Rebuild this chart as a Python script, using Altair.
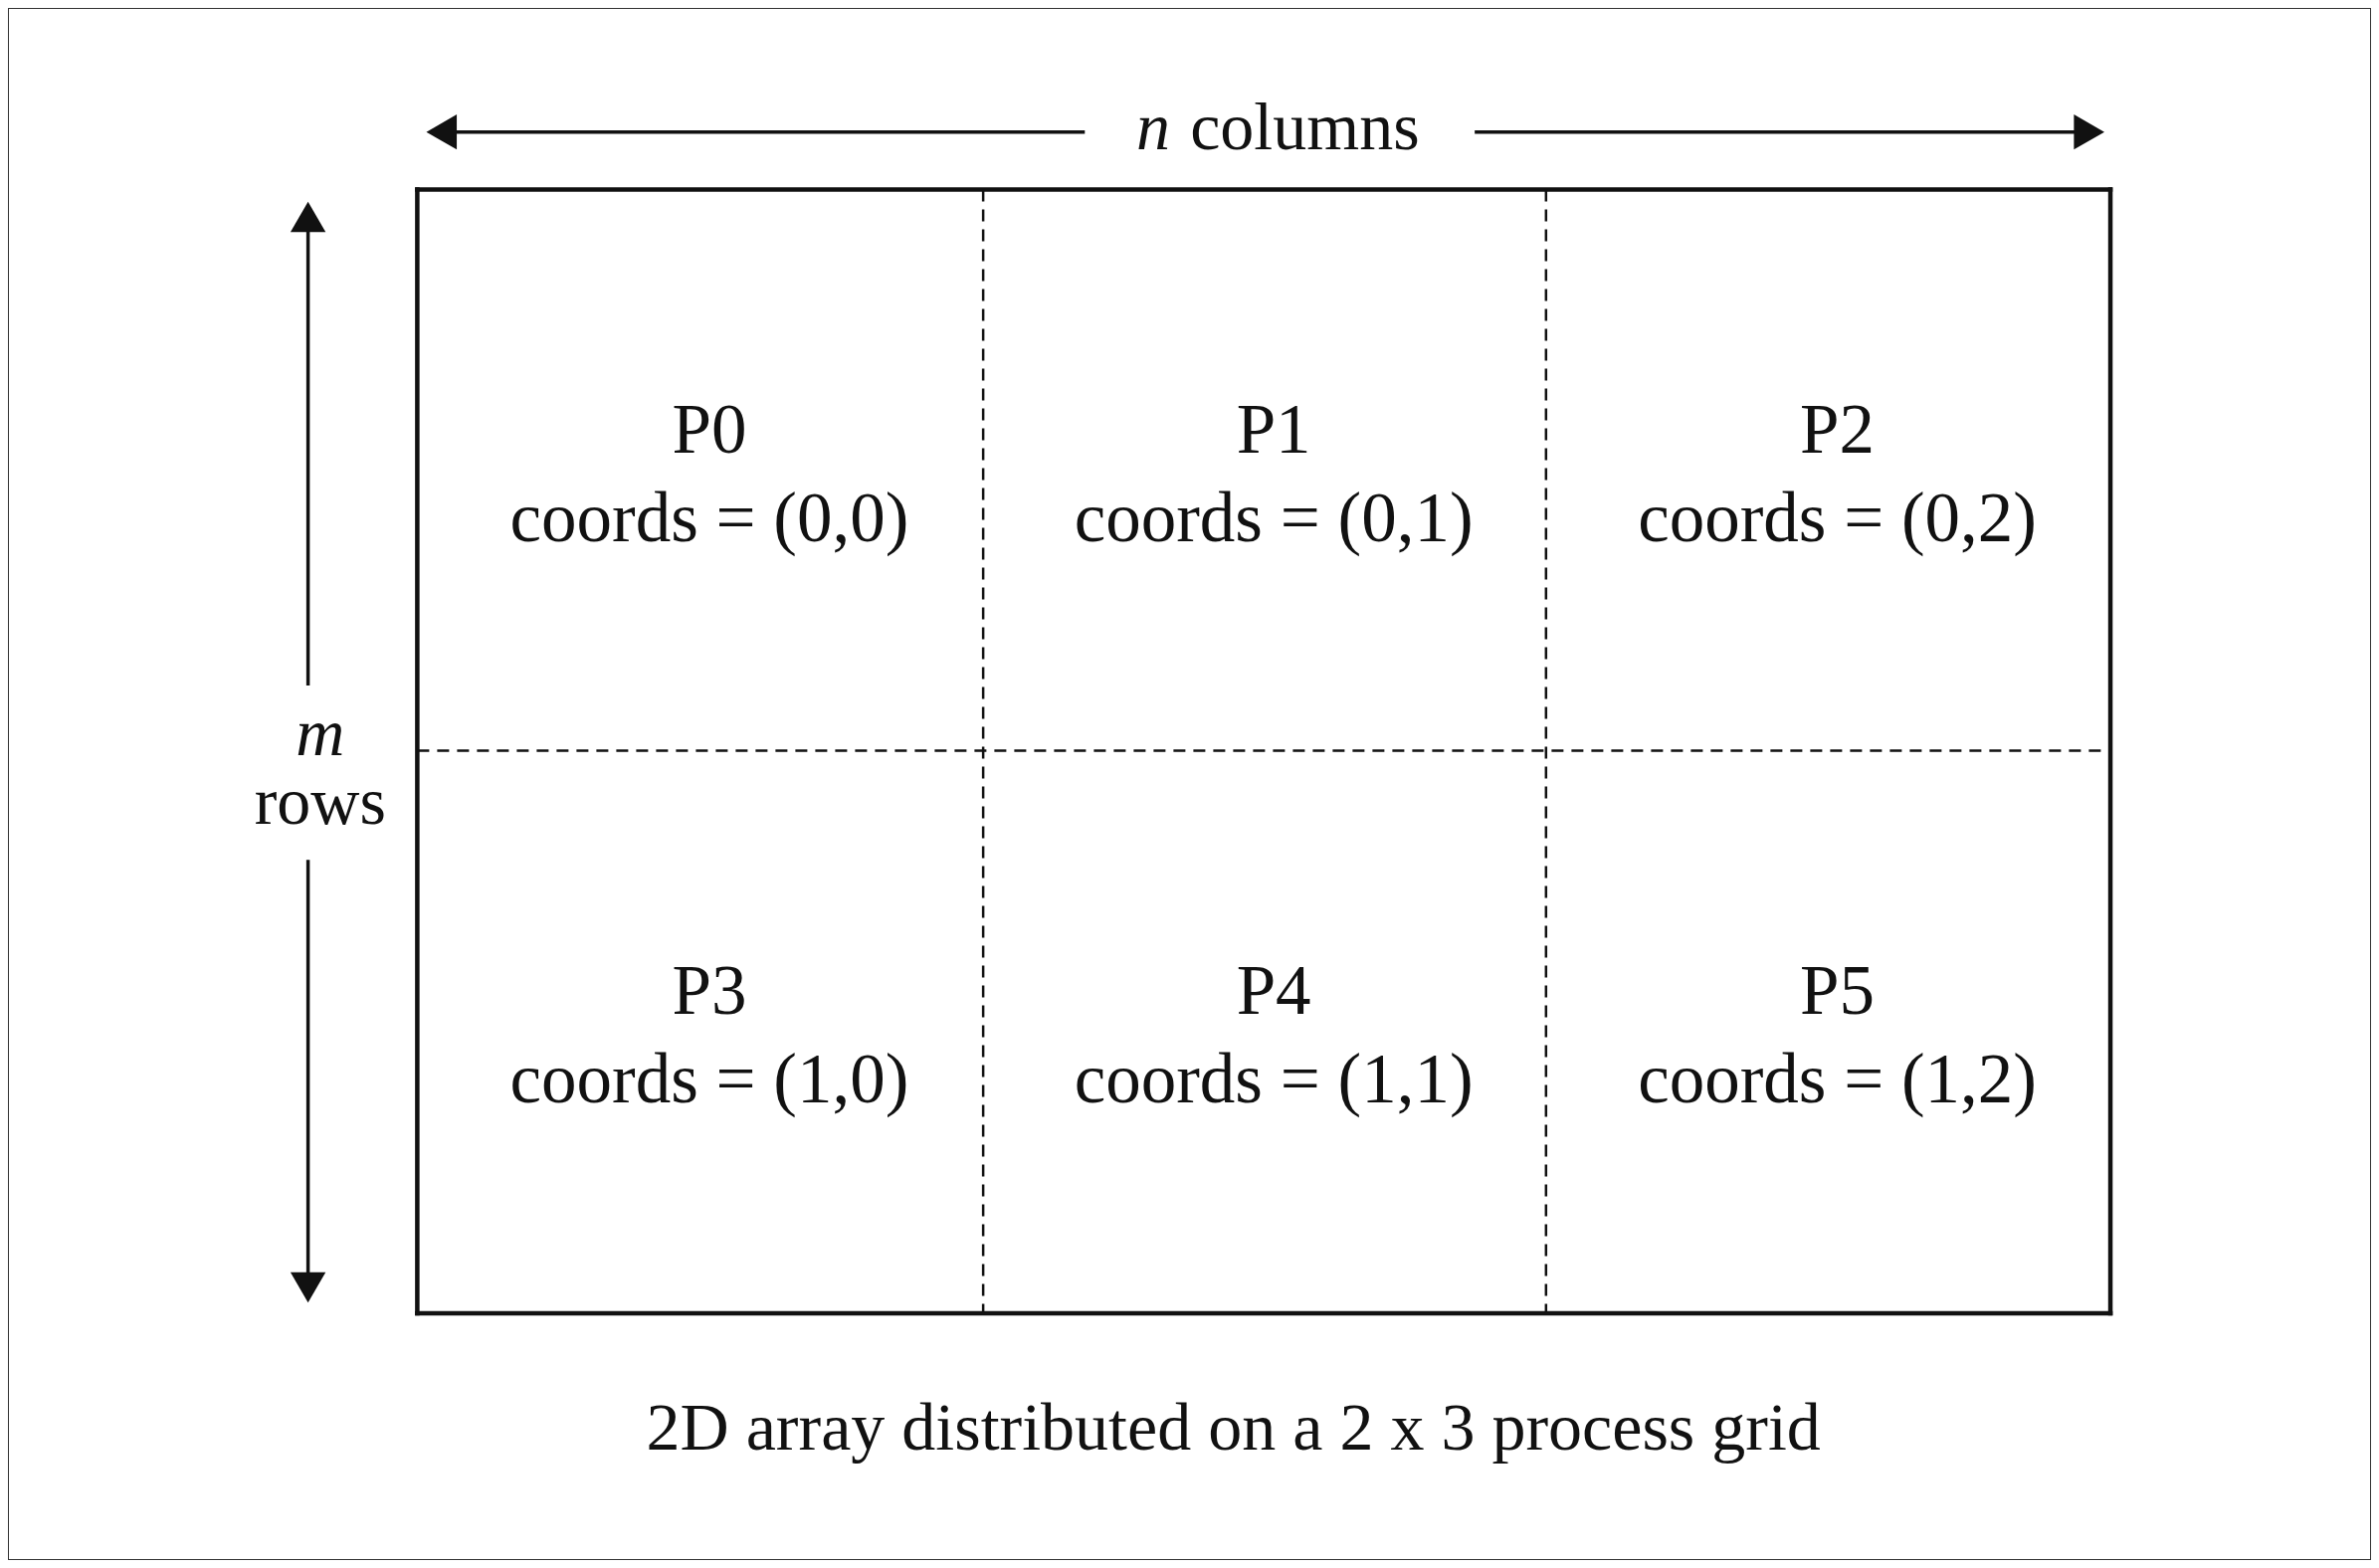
import pandas as pd
import altair as alt

# grid layout (reference image units)
col_edges = [275, 648, 1019, 1391]
row_edges = [125, 495, 866]
labels = ["P0", "P1", "P2", "P3", "P4", "P5"]
coords = ["(0,0)", "(0,1)", "(0,2)", "(1,0)", "(1,1)", "(1,2)"]
caption = "2D array distributed on a 2 x 3 process grid"

xs = alt.Scale(domain=[5.2, 1562.8], nice=False, zero=False)
ys = alt.Scale(domain=[5.2, 1028.8], nice=False, zero=False, reverse=True)
X = lambda f="x": alt.X(f"{f}:Q", scale=xs, axis=None)
Y = lambda f="y": alt.Y(f"{f}:Q", scale=ys, axis=None)
FONT = "Liberation Serif"

segs = []
for y in (row_edges[0], row_edges[-1]):
    segs.append(dict(x=col_edges[0], x2=col_edges[-1], y=y, y2=y, kind="solid"))
for x in (col_edges[0], col_edges[-1]):
    segs.append(dict(x=x, x2=x, y=row_edges[0], y2=row_edges[-1], kind="solid"))
for x in col_edges[1:-1]:
    segs.append(dict(x=x, x2=x, y=row_edges[0], y2=row_edges[-1], kind="dash"))
for y in row_edges[1:-1]:
    segs.append(dict(x=col_edges[0], x2=col_edges[-1], y=y, y2=y, kind="dash"))
seg = pd.DataFrame(segs)

solid = alt.Chart(seg[seg.kind == "solid"]).mark_rule(color="#111", strokeWidth=4.5, strokeCap="square").encode(
    x=X(), x2="x2:Q", y=Y(), y2="y2:Q")
dash = alt.Chart(seg[seg.kind == "dash"]).mark_rule(color="#111", strokeWidth=2.5, strokeDash=[12, 8]).encode(
    x=X(), x2="x2:Q", y=Y(), y2="y2:Q")

arrows = pd.DataFrame([
    dict(x=290, x2=715, y=87, y2=87),
    dict(x=972, x2=1378, y=87, y2=87),
    dict(x=203, x2=203, y=140, y2=452),
    dict(x=203, x2=203, y=567, y2=850),
])
arrow_lines = alt.Chart(arrows).mark_rule(color="#111", strokeWidth=3.5).encode(
    x=X(), x2="x2:Q", y=Y(), y2="y2:Q")
heads = pd.DataFrame([
    dict(x=291, y=87, shape="triangle-left"),
    dict(x=1377, y=87, shape="triangle-right"),
    dict(x=203, y=143, shape="triangle-up"),
    dict(x=203, y=849, shape="triangle-down"),
])
head_marks = alt.Chart(heads).mark_point(filled=True, color="#111", opacity=1, size=1250).encode(
    x=X(), y=Y(), shape=alt.Shape("shape:N", scale=None, legend=None))

cells = []
for i, (p, c) in enumerate(zip(labels, coords)):
    r, k = divmod(i, 3)
    cx = (col_edges[k] + col_edges[k + 1]) / 2 + 6
    cy = row_edges[r] + 160
    cells.append(dict(x=cx, y=cy, t=p))
    cells.append(dict(x=cx, y=cy + 58, t="coords = " + c))
cell_text = alt.Chart(pd.DataFrame(cells)).mark_text(font=FONT, fontSize=71, color="#111").encode(
    x=X(), y=Y(), text="t:N")

upright = pd.DataFrame([
    dict(x=860, y=85, t="columns"),
    dict(x=211, y=530, t="rows"),
    dict(x=813, y=943, t=caption),
])
up_text = alt.Chart(upright).mark_text(font=FONT, fontSize=68, color="#111").encode(
    x=X(), y=Y(), text="t:N")
italic = pd.DataFrame([dict(x=760, y=85, t="n"), dict(x=211, y=485, t="m")])
it_text = alt.Chart(italic).mark_text(font=FONT, fontSize=68, fontStyle="italic", color="#111").encode(
    x=X(), y=Y(), text="t:N")

chart = alt.layer(solid, dash, arrow_lines, head_marks, cell_text, up_text, it_text).properties(
    width=2375, height=1560, padding=0
).configure_view(stroke="#333", strokeWidth=2)

chart.save("out.html", embed_options={"renderer": "svg", "actions": False})
